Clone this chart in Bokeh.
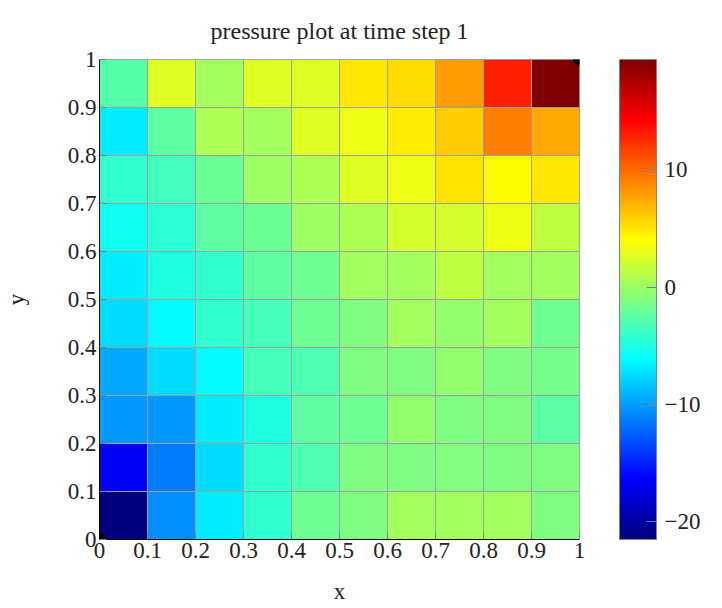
from bokeh.plotting import figure
from bokeh.models import (LinearColorMapper, ColorBar, FixedTicker, ColumnDataSource)
from bokeh.transform import transform
from bokeh.embed import file_html
from bokeh.resources import INLINE

# ---- data ----
x_centers = [0.05, 0.15, 0.25, 0.35, 0.45, 0.55, 0.65, 0.75, 0.85, 0.95]
y_centers = [0.05, 0.15, 0.25, 0.35, 0.45, 0.55, 0.65, 0.75, 0.85, 0.95]
cell_size = 0.1

# pressure values, one list per row (bottom row y=0.05 first)
p_y005 = [-21.5, -10.6, -6.9, -4.2, -1.7, -1.1, 0.3, 0.3, 0.3, -1.1]
p_y015 = [-16.4, -11.3, -7.5, -4.2, -3.0, -1.1, -1.1, -0.9, -1.1, -1.1]
p_y025 = [-10.3, -10.3, -6.9, -4.9, -2.4, -1.7, -0.4, -1.1, -1.1, -2.6]
p_y035 = [-9.6, -7.5, -6.2, -3.4, -3.0, -1.1, -1.1, -0.4, -1.1, -1.5]
p_y045 = [-7.5, -6.2, -4.2, -3.4, -1.7, -1.1, 0.3, -0.4, 0.3, -1.7]
p_y055 = [-6.9, -4.9, -4.2, -2.4, -1.7, 0.3, 0.3, 1.5, 0.3, 0.3]
p_y065 = [-5.6, -4.5, -2.4, -1.9, 0.2, 0.8, 2.2, 2.2, 3.4, 1.5]
p_y075 = [-4.2, -3.6, -1.9, 0.2, 0.8, 2.7, 3.4, 5.1, 4.1, 5.0]
p_y085 = [-6.9, -2.4, 0.8, 0.3, 2.7, 3.4, 4.8, 6.1, 9.2, 7.5]
p_y095 = [-2.8, 2.7, 0.3, 2.7, 2.7, 5.0, 5.5, 7.9, 13.0, 19.4]
rows = [p_y005, p_y015, p_y025, p_y035, p_y045, p_y055, p_y065, p_y075, p_y085, p_y095]

axis_ticks = [0, 0.1, 0.2, 0.3, 0.4, 0.5, 0.6, 0.7, 0.8, 0.9, 1]
axis_tick_labels = ["0", "0.1", "0.2", "0.3", "0.4", "0.5", "0.6", "0.7", "0.8", "0.9", "1"]
cbar_ticks = [-20, -10, 0, 10]
cbar_tick_labels = ["\u221220", "\u221210", "0", "10"]
corner_x = [0, 1]
corner_y = [0, 1]

title_text = "pressure plot at time step 1"
x_label = "x"
y_label = "y"

# ---- jet palette ----
def jet(t):
    def clip(v):
        return max(0.0, min(1.0, v))
    r = clip(min(4 * t - 1.5, -4 * t + 4.5))
    g = clip(min(4 * t - 0.5, -4 * t + 3.5))
    b = clip(min(4 * t + 0.5, -4 * t + 2.5))
    return "#%02x%02x%02x" % (int(round(r * 255)), int(round(g * 255)), int(round(b * 255)))

palette = [jet(i / 255) for i in range(256)]

xs, ys, vals = [], [], []
for j, row in enumerate(rows):
    for i, v in enumerate(row):
        xs.append(x_centers[i])
        ys.append(y_centers[j])
        vals.append(v)

vmin = min(vals)
vmax = max(vals)
mapper = LinearColorMapper(palette=palette, low=vmin, high=vmax)

src = ColumnDataSource(dict(x=xs, y=ys, v=vals))

FONT = "Liberation Serif"

p = figure(width=722, height=608, x_range=(0, 1), y_range=(0, 1),
           output_backend="svg", toolbar_location=None,
           min_border_left=99, min_border_right=143,
           min_border_top=59, min_border_bottom=69,
           title=title_text)

p.rect(x="x", y="y", width=cell_size, height=cell_size, source=src,
       fill_color=transform("v", mapper), line_color="#a0a0a0", line_width=1)

p.scatter(corner_x, corner_y, size=12, color="black")

p.title.align = "center"
p.title.vertical_align = "top"
p.title.text_font = FONT
p.title.text_font_style = "normal"
p.title.text_font_size = "24px"
p.title.text_line_height = 1.0
p.title.text_color = "#222222"
p.title.standoff = 28

p.xgrid.visible = False
p.ygrid.visible = False
p.outline_line_color = "#a0a0a0"

for ax in (p.xaxis[0], p.yaxis[0]):
    ax.ticker = FixedTicker(ticks=axis_ticks)
    ax.major_label_overrides = {t: l for t, l in zip(axis_ticks, axis_tick_labels)}
    ax.major_label_text_font = FONT
    ax.major_label_text_font_size = "23px"
    ax.major_label_text_color = "#222222"
    ax.axis_label_text_font = FONT
    ax.axis_label_text_font_size = "23px"
    ax.axis_label_text_font_style = "normal"
    ax.axis_label_text_color = "#222222"
    ax.major_tick_in = 7
    ax.major_tick_out = 0
    ax.major_tick_line_color = "#808080"
    ax.minor_tick_line_color = None
    ax.axis_line_color = "black"
    ax.major_label_standoff = 3

p.xaxis.axis_label = x_label
p.yaxis.axis_label = y_label
p.yaxis.axis_label_standoff = 36
p.xaxis.axis_label_standoff = 18

cbar = ColorBar(color_mapper=mapper, width=37, height=480, margin=0, padding=0,
                location=(40, 0),
                ticker=FixedTicker(ticks=cbar_ticks),
                major_label_overrides={t: l for t, l in zip(cbar_ticks, cbar_tick_labels)},
                major_label_text_font=FONT,
                major_label_text_font_size="23px",
                major_label_text_color="#222222",
                major_tick_in=10, major_tick_out=0,
                major_tick_line_color="#808080",
                minor_tick_line_color=None,
                bar_line_color="#808080",
                label_standoff=8,
                background_fill_alpha=0)
p.add_layout(cbar, "right")

open("out.html", "w").write(file_html(p, INLINE))
